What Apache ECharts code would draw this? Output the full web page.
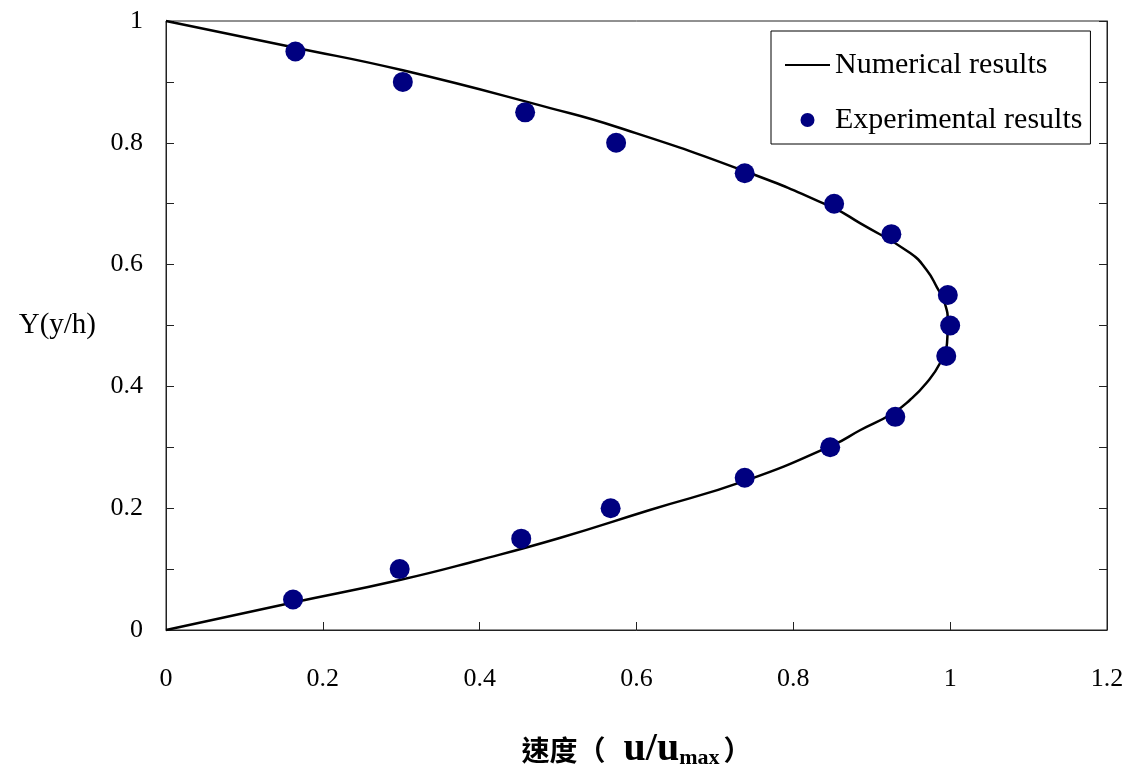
<!DOCTYPE html>
<html>
<head>
<meta charset="utf-8">
<script src="https://cdn.jsdelivr.net/npm/echarts@6/dist/echarts.min.js"></script>
<style>html,body{margin:0;padding:0;background:#fff}#c{width:1133px;height:774px}</style>
</head>
<body>
<div id="c"></div>
<script>
// Numerical results (u/umax, y/h)
const numericalU = [0, 0.162, 0.298, 0.400, 0.502, 0.617, 0.741, 0.851, 0.885, 0.927, 0.949, 0.970, 0.987, 0.996, 0.997, 0.993, 0.983, 0.970, 0.949, 0.885, 0.851, 0.741, 0.575, 0.490, 0.302, 0.162, 0];
const numericalY = [0, 0.045, 0.082, 0.115, 0.151, 0.197, 0.246, 0.304, 0.328, 0.356, 0.378, 0.406, 0.438, 0.471, 0.504, 0.537, 0.563, 0.591, 0.619, 0.668, 0.693, 0.752, 0.826, 0.857, 0.919, 0.957, 1];
// Experimental results
const expU = [0.162, 0.298, 0.453, 0.567, 0.738, 0.847, 0.930, 0.995, 1.000, 0.997, 0.925, 0.852, 0.738, 0.574, 0.458, 0.302, 0.165];
const expY = [0.05, 0.10, 0.15, 0.20, 0.25, 0.30, 0.35, 0.45, 0.50, 0.55, 0.65, 0.70, 0.75, 0.80, 0.85, 0.90, 0.95];
const xTicks = [0, 0.2, 0.4, 0.6, 0.8, 1, 1.2];
const yTicks = [0, 0.2, 0.4, 0.6, 0.8, 1];

const serif = '"Liberation Serif", "DejaVu Serif", serif';
const axisColor = '#222';
const chart = echarts.init(document.getElementById('c'));
chart.setOption({
  animation: false,
  backgroundColor: '#fff',
  grid: { left: 166, right: 26, top: 21, bottom: 144, show: true, borderColor: axisColor, borderWidth: 1, outerBoundsMode: 'none', containLabel: false },
  legend: {
    left: 771, top: 31, orient: 'vertical',
    borderColor: '#000', borderWidth: 1, padding: [19, 8, 9, 14],
    itemWidth: 45, itemHeight: 14, itemGap: 25, itemTextGap: 8,
    textStyle: { fontFamily: serif, fontSize: 30, color: '#000', lineHeight: 26 },
    data: [
      { name: 'Numerical results', icon: 'path://M0,0 L45,0 L45,2.2 L0,2.2 Z', itemStyle: { color: '#000' } },
      { name: 'Experimental results', icon: 'circle' }
    ]
  },
  xAxis: [{
    type: 'value', min: xTicks[0], max: xTicks[xTicks.length - 1], interval: 0.2,
    position: 'bottom',
    axisLine: { show: true, lineStyle: { color: axisColor, width: 1 } },
    axisTick: { show: true, inside: true, length: 8, lineStyle: { color: axisColor } },
    splitLine: { show: false },
    axisLabel: { margin: 36, fontFamily: serif, fontSize: 26, color: '#000' },
    name: '{a|速度（}{b|u/u}{c|max}{a|）}',
    nameLocation: 'middle', nameGap: 100,
    nameTextStyle: {
      rich: {
        a: { fontFamily: '"Noto Sans CJK TC"', fontWeight: 'bold', fontSize: 28, color: '#000' },
        b: { fontFamily: serif, fontWeight: 'bold', fontSize: 40, color: '#000', padding: [0, 0, 0, 18] },
        c: { fontFamily: serif, fontWeight: 'bold', fontSize: 22, color: '#000', padding: [16, 4, 0, 0] }
      }
    }
  }],
  yAxis: [{
    type: 'value', min: yTicks[0], max: yTicks[yTicks.length - 1], interval: 0.2,
    position: 'left',
    axisLine: { show: true, lineStyle: { color: axisColor, width: 1 } },
    axisTick: { show: true, inside: true, length: 8, lineStyle: { color: axisColor } },
    minorTick: { show: true, splitNumber: 2, length: 8, lineStyle: { color: axisColor } },
    splitLine: { show: false },
    axisLabel: { margin: 23, fontFamily: serif, fontSize: 26, color: '#000', padding: [6, 0, 0, 0] },
    name: 'Y(y/h)', nameLocation: 'middle', nameRotate: 0, nameGap: 70,
    nameTextStyle: { fontFamily: serif, fontSize: 29, color: '#000', padding: [8, 0, 0, 0] }
  }, {
    type: 'value', min: yTicks[0], max: yTicks[yTicks.length - 1], interval: 0.2,
    position: 'right',
    axisLine: { show: true, lineStyle: { color: axisColor, width: 1 } },
    axisTick: { show: true, inside: true, length: 8, lineStyle: { color: axisColor } },
    minorTick: { show: true, splitNumber: 2, length: 8, lineStyle: { color: axisColor } },
    splitLine: { show: false },
    axisLabel: { show: false }
  }],
  series: [{
    name: 'Numerical results', type: 'line',
    data: numericalU.map((u, i) => [u, numericalY[i]]),
    symbol: 'none', smooth: 0.5, clip: false,
    lineStyle: { color: '#000', width: 2.5 },
    itemStyle: { color: '#000' },
    z: 2
  }, {
    name: 'Experimental results', type: 'scatter',
    data: expU.map((u, i) => [u, expY[i]]),
    symbol: 'circle', symbolSize: 20,
    itemStyle: { color: '#000080', opacity: 1 },
    z: 3
  }]
});
</script>
</body>
</html>
